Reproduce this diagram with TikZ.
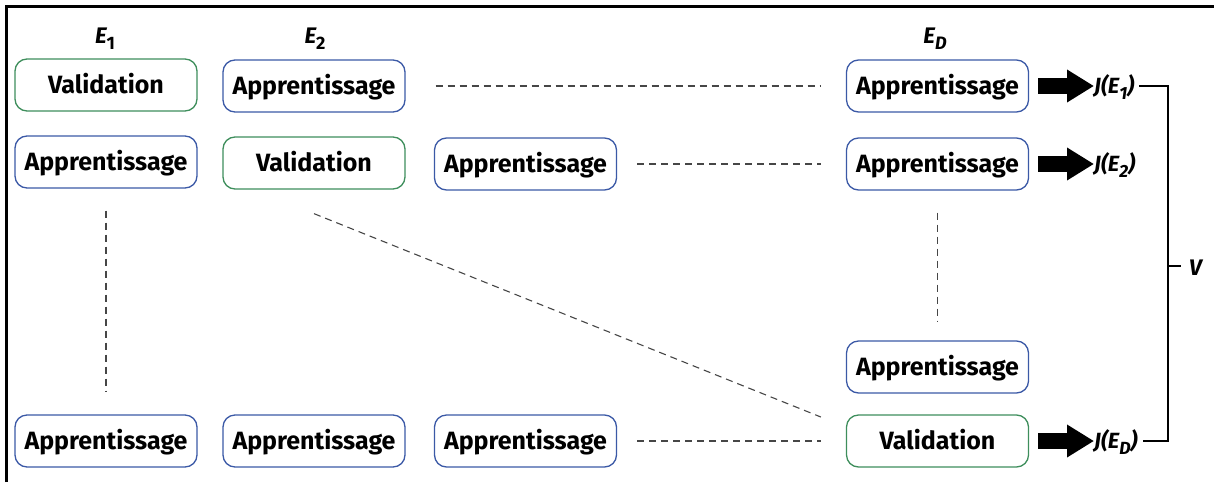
\documentclass[tikz,border=0pt]{standalone}
\usepackage{fontspec}
\usepackage{graphicx}
\setmainfont{Fira Sans}
\usetikzlibrary{arrows.meta}
\definecolor{boxblue}{RGB}{59,89,166}
\definecolor{boxgreen}{RGB}{62,142,92}
\definecolor{dashgray}{RGB}{70,70,70}
\newcommand\mysub[1]{\raisebox{-0.28em}{\scalebox{0.8}{#1}}}
\tikzset{
  box/.style={draw, rounded corners=12pt, line width=1.3pt, minimum width=182pt, minimum height=52pt,
    inner sep=0pt, text height=22pt, text depth=4.8pt, font=\fontsize{25}{28}\selectfont\bfseries},
  app/.style={box, draw=boxblue},
  val/.style={box, draw=boxgreen},
  hdr/.style={font=\fontsize{22.5}{24}\selectfont\bfseries\itshape, inner sep=0pt, anchor=base},
  jlab/.style={font=\fontsize{22}{24}\selectfont\bfseries\itshape, inner sep=0pt, anchor=base west},
  dline/.style={draw=dashgray, line width=1.1pt, dash pattern=on 7pt off 5pt},
  bigarrow/.style={line width=16pt, -{Triangle[length=27pt,width=31pt]}},
  bracket/.style={line width=2.6pt},
}
\begin{document}
\begin{tikzpicture}[x=1pt,y=-1pt]
\useasboundingbox (0,0) rectangle (1214,482);
% frame
\draw[line width=3pt] (6,482) -- (6,6) -- (1214,6);
% headers
\node[hdr] (e1) at (105,43) {E\mysub{\upshape 1}};
\node[hdr] (e2) at (315,43) {E\mysub{\upshape 2}};
\node[hdr] (ed) at (935,43) {E\mysub{D}};
% row 1
\node[val] (r1a) at (106,85) {Validation};
\node[app] (r1b) at (314,86) {Apprentissage};
\node[app] (r1d) at (937.5,86) {Apprentissage};
% row 2
\node[app] (r2a) at (106,162) {Apprentissage};
\node[val] (r2b) at (314,163) {Validation};
\node[app] (r2c) at (525.5,164) {Apprentissage};
\node[app] (r2d) at (937.5,164) {Apprentissage};
% row 4
\node[app] (r4d) at (937.5,367) {Apprentissage};
% row 5
\node[app] (r5a) at (106,441) {Apprentissage};
\node[app] (r5b) at (314,441) {Apprentissage};
\node[app] (r5c) at (525.5,441) {Apprentissage};
\node[val] (r5d) at (937.5,441) {Validation};
% dashed connectors
\draw[dline, shorten <=30pt, shorten >=25pt] (r1b.east) -- (r1d.west);
\draw[dline, shorten <=20pt, shorten >=25pt] (r2c.east) -- (r2d.west);
\draw[dline, shorten <=20pt, shorten >=25pt] (r5c.east) -- (r5d.west);
\draw[dline, shorten <=22pt, shorten >=22pt] (r2a.south) -- (r5a.north);
\draw[dline, shorten <=22pt, shorten >=19pt] (r2d.south) -- (r4d.north);
\draw[dline] ([yshift=-24pt]r2b.south) -- ([xshift=-25pt,yshift=24pt]r5d.west);
% result labels
\node[jlab] (j1) at (1094,93.5) {J(E\mysub{1})};
\node[jlab] (j2) at (1094,171.5) {J(E\mysub{2})};
\node[jlab] (jd) at (1094,448.5) {J(E\mysub{D})};
% block arrows
\draw[bigarrow] ([xshift=9pt]r1d.east) -- (r1d.east -| j1.west);
\draw[bigarrow] ([xshift=9pt]r2d.east) -- (r2d.east -| j2.west);
\draw[bigarrow] ([xshift=9pt]r5d.east) -- (r5d.east -| jd.west);
% bracket
\coordinate (bt) at (1168,86);
\coordinate (bb) at (1168,441);
\coordinate (bm) at (1168,266);
\node[hdr, anchor=base west] (v) at (1189,275) {V};
\draw[bracket] ([xshift=5pt]j1.east |- bt) -- (bt) -- (bb) -- ([xshift=5pt]jd.east |- bb);
\draw[bracket] (bm) -- ([xshift=-8pt]v.west |- bm);
\end{tikzpicture}
\end{document}
